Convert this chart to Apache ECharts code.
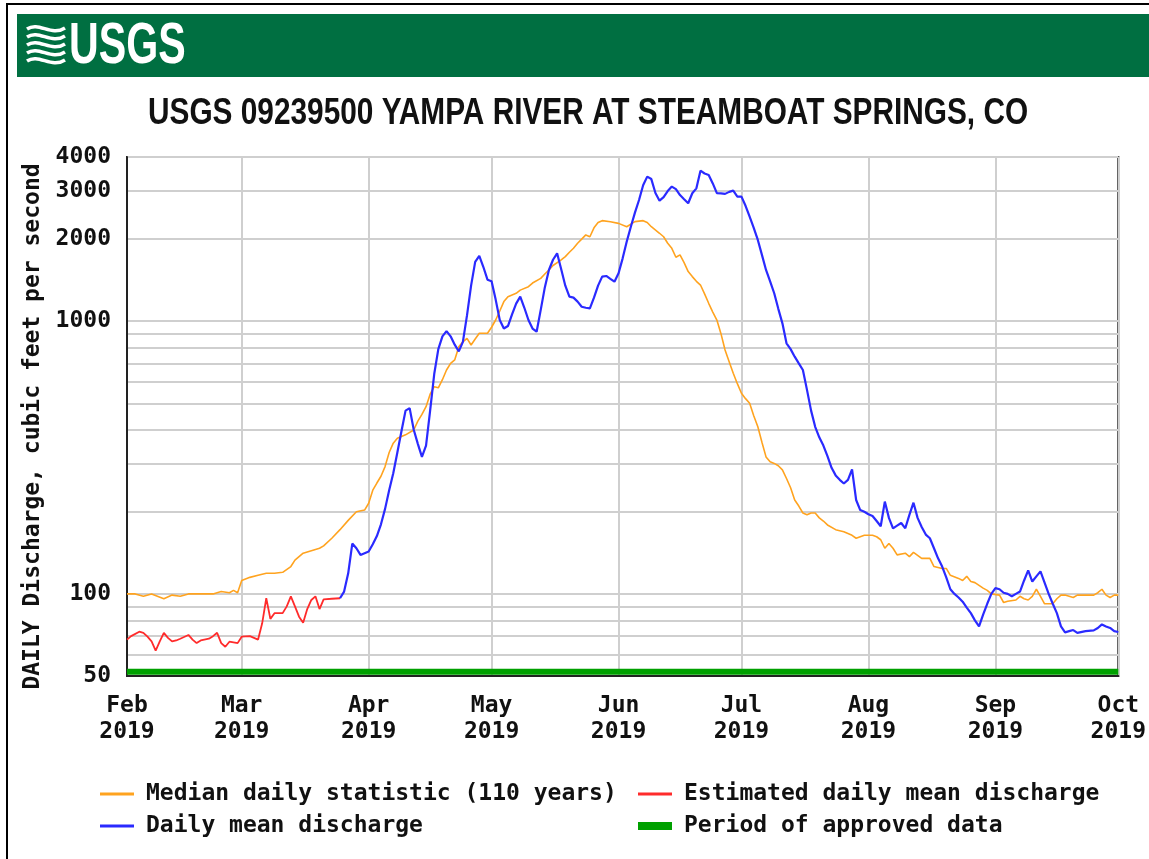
<!DOCTYPE html>
<html><head><meta charset="utf-8">
<script src="https://cdn.jsdelivr.net/npm/echarts@6/dist/echarts.min.js"></script>
<style>html,body{margin:0;padding:0;background:#fff}#c{width:1149px;height:859px}</style>
</head><body><div id="c"></div>
<script>
// x values are days since 2019-02-01
const monthDays = [0, 28, 59, 89, 120, 150, 181, 212, 242];
const monthLabels = ['Feb\n2019','Mar\n2019','Apr\n2019','May\n2019','Jun\n2019','Jul\n2019','Aug\n2019','Sep\n2019','Oct\n2019'];
const yGridValues = [50,60,70,80,90,100,200,300,400,500,600,700,800,900,1000,2000,3000,4000];
const yLabelValues = [50,100,1000,2000,3000,4000];

const medianPoints = [[0,100],[2,100],[4,98],[6,100],[9,96],[11,99],[13,98],[15,100],[18,100],[21,100],[23,102],[25,101],[26,103],[27,101],[28,112],[30,115],[32,117],[34,119],[36,119],[38,120],[40,126],[41,133],[43,141],[45,144],[47,147],[48,150],[50,160],[52,172],[54,186],[56,200],[58,203],[59,215],[60,240],[61,255],[62,270],[63,293],[64,330],[65,357],[66,372],[68,383],[70,399],[71,430],[72,455],[73,486],[74,540],[75,575],[76,570],[77,610],[78,662],[79,700],[80,721],[81,806],[82,840],[83,865],[84,818],[85,860],[86,903],[88,903],[89,950],[90,1010],[91,1090],[92,1180],[93,1230],[95,1265],[96,1300],[98,1338],[99,1380],[101,1436],[102,1490],[103,1541],[104,1600],[106,1677],[107,1725],[108,1790],[109,1851],[110,1931],[111,2000],[112,2072],[113,2040],[114,2200],[115,2300],[116,2337],[118,2315],[120,2284],[122,2220],[123,2270],[124,2318],[126,2337],[127,2300],[128,2220],[130,2101],[131,2040],[132,1931],[133,1850],[134,1716],[135,1750],[136,1640],[137,1520],[138,1457],[139,1400],[140,1357],[141,1260],[142,1163],[143,1080],[144,1010],[145,900],[146,784],[147,710],[148,644],[149,590],[150,544],[151,520],[152,500],[153,450],[154,410],[155,360],[156,318],[157,305],[158,301],[159,295],[160,285],[161,265],[162,245],[163,221],[164,210],[165,198],[166,195],[167,198],[168,198],[169,190],[170,185],[171,179],[173,172],[175,169],[177,164],[178,160],[180,164],[182,164],[183,162],[184,158],[185,147],[186,153],[187,147],[188,139],[190,141],[191,137],[192,142],[194,135],[196,135],[197,126],[199,124],[200,124],[201,117],[203,114],[204,112],[205,116],[206,111],[207,110],[209,105],[210,103],[211,100],[213,99],[214,93],[215,94],[217,95],[218,98],[219,96],[220,95],[221,98],[222,104],[223,98],[224,92],[226,92],[227,96],[228,99],[229,99],[231,97],[232,99],[236,99],[237,101],[238,104],[239,99],[240,97],[241,99],[242,99]];

const estimatedPoints = [[0,68],[1,70],[3,72.7],[4,72],[5,69.7],[6,67],[7,62],[8,67],[9,72],[10,69],[11,67],[12,67.5],[13,68.5],[15,70.7],[16,68],[17,66],[18,67.5],[20,68.5],[21,70],[22,72],[23,66],[24,64],[25,66.8],[27,66],[28,69.7],[30,70],[32,68],[33,78],[34,96.4],[35,81],[36,85],[38,85],[39,90],[40,98],[41,90],[42,82.5],[43,78.4],[44,88],[45,95],[46,98],[47,88],[48,95.5],[50,96],[52,96.4]];

const meanPoints = [[52,96.4],[53,102],[54,119],[55,153],[56,147],[57,139],[58,141],[59,143],[60,152],[61,163],[62,180],[63,205],[64,240],[65,277],[66,330],[67,395],[68,470],[69,480],[70,400],[71,355],[72,318],[73,350],[74,470],[75,640],[76,790],[77,880],[78,920],[79,880],[80,820],[81,775],[82,840],[83,1050],[84,1350],[85,1650],[86,1735],[87,1580],[88,1420],[89,1400],[90,1200],[91,1010],[92,940],[93,960],[94,1060],[95,1160],[96,1230],[97,1120],[98,1010],[99,940],[100,915],[101,1100],[102,1330],[103,1541],[104,1680],[105,1774],[106,1550],[107,1350],[108,1230],[109,1220],[110,1180],[111,1130],[112,1120],[113,1115],[114,1220],[115,1350],[116,1457],[117,1465],[118,1430],[119,1396],[120,1498],[121,1700],[122,1960],[123,2220],[124,2500],[125,2783],[126,3150],[127,3389],[128,3320],[129,2950],[130,2767],[131,2850],[132,3000],[133,3115],[134,3050],[135,2900],[136,2800],[137,2707],[138,2946],[139,3070],[140,3564],[141,3480],[142,3437],[143,3200],[144,2950],[145,2940],[146,2930],[147,2980],[148,3012],[149,2863],[150,2863],[151,2650],[152,2416],[153,2200],[154,1986],[155,1750],[156,1541],[157,1400],[158,1266],[159,1110],[160,982],[161,830],[162,790],[163,741],[164,700],[165,662],[166,560],[167,470],[168,410],[169,375],[170,350],[171,320],[172,290],[173,272],[174,262],[175,254],[176,262],[177,286],[178,221],[179,203],[180,200],[181,196],[182,193],[183,185],[184,177],[185,218],[186,190],[187,174],[188,178],[189,182],[190,174],[191,195],[192,216],[193,190],[194,176],[195,165],[196,160],[197,147],[198,135],[199,126],[200,115],[201,104],[202,100],[203,97],[204,93.6],[205,89],[206,85],[207,80],[208,76],[209,84],[210,92],[211,100],[212,105],[213,104],[214,101],[215,100],[216,98],[217,100],[218,102],[219,112],[220,122],[221,111],[222,116],[223,121],[224,110],[225,100],[226,92],[227,85],[228,76],[229,72.3],[230,73],[231,73.7],[232,72],[234,73],[236,73.5],[237,75],[238,77.3],[239,76],[240,75],[241,73],[242,72.5]];

const approvedPeriod = [0, 242];

const MONO = "'DejaVu Sans Mono', monospace";
const chart = echarts.init(document.getElementById('c'), null, {renderer: 'canvas'});

const legendText = {fontFamily: MONO, fontSize: 23, fontWeight: 'bold', color: '#111', lineHeight: 24, padding: [0,0,0,7]};
function legendItem(name, left, top, h) {
  return {data: [{name: name, icon: 'rect'}], left: left, top: top, padding: 0, itemWidth: 34, itemHeight: h,
          textStyle: legendText, selectedMode: false};
}

const wavePaths = [0, 8, 16, 24, 32].map(function (o) {
  return {type: 'bezierCurve',
    shape: {x1: 27, y1: 29 + o, cpx1: 39, cpy1: 21 + o, cpx2: 51, cpy2: 37 + o, x2: 65, y2: 28 + o},
    style: {stroke: '#fff', lineWidth: 3.5, fill: null}};
});

chart.setOption({
  animation: false,
  backgroundColor: '#fff',
  graphic: [
    {type: 'rect', shape: {x: 7, y: 4, width: 1200, height: 900}, style: {fill: null, stroke: '#000', lineWidth: 2}, z: 0},
    {type: 'rect', shape: {x: 17, y: 14, width: 1140, height: 63}, style: {fill: '#006F41'}},
    ...wavePaths,
    {type: 'text', x: 69, y: 47, scaleX: 0.71,
      style: {text: 'USGS', fill: '#fff', font: "bold 58px 'Liberation Sans', Arial, sans-serif", verticalAlign: 'middle', align: 'left'}},
    {type: 'text', x: 148, y: 114, scaleX: 0.828,
      style: {text: 'USGS 09239500 YAMPA RIVER AT STEAMBOAT SPRINGS, CO', fill: '#111',
        font: "bold 36px 'Liberation Sans', Arial, sans-serif", verticalAlign: 'middle', align: 'left'}}
  ],
  grid: {left: 127, top: 157, width: 992, height: 519, show: true, borderColor: '#222', borderWidth: 2, backgroundColor: 'transparent', containLabel: false},
  xAxis: {
    type: 'value', min: 0, max: 242,
    axisLine: {show: true, lineStyle: {color: '#222', width: 2}},
    axisTick: {show: false, customValues: monthDays},
    splitLine: {show: true, lineStyle: {color: '#CFCFCF', width: 2}},
    axisLabel: {customValues: monthDays, margin: 17, lineHeight: 26,
      fontFamily: MONO, fontSize: 23, fontWeight: 'bold', color: '#111',
      formatter: function (v) { return monthLabels[monthDays.indexOf(Math.round(v))] || ''; }}
  },
  yAxis: {
    type: 'log', logBase: 10, min: 50, max: 4000,
    name: 'DAILY Discharge, cubic feet per second', nameLocation: 'middle', nameGap: 81, nameRotate: 90,
    nameTextStyle: {fontFamily: MONO, fontSize: 23, fontWeight: 'bold', color: '#111', padding: [0, 20, 0, 0]},
    axisLine: {show: true, lineStyle: {color: '#222', width: 2}},
    axisTick: {show: false, customValues: yGridValues},
    splitLine: {show: true, lineStyle: {color: '#CFCFCF', width: 2}},
    minorSplitLine: {show: false},
    axisLabel: {customValues: yLabelValues, margin: 16, fontFamily: MONO, fontSize: 23, fontWeight: 'bold', color: '#111',
      formatter: function (v) { return String(Math.round(v)); }}
  },
  legend: [
    legendItem('Median daily statistic (110 years)', 100, 782, 3),
    legendItem('Daily mean discharge', 100, 814, 3),
    legendItem('Estimated daily mean discharge', 638, 782, 3),
    legendItem('Period of approved data', 638, 814, 8)
  ],
  series: [
    {name: 'Median daily statistic (110 years)', type: 'line', data: medianPoints, symbol: 'none',
      color: '#FFA31F', lineStyle: {color: '#FFA31F', width: 1.6}, z: 3},
    {name: 'Estimated daily mean discharge', type: 'line', data: estimatedPoints, symbol: 'none',
      color: '#FF2B2B', lineStyle: {color: '#FF2B2B', width: 1.8}, z: 4},
    {name: 'Daily mean discharge', type: 'line', data: meanPoints, symbol: 'none',
      color: '#2A2AFF', lineStyle: {color: '#2A2AFF', width: 2.2}, z: 5},
    {name: 'Period of approved data', type: 'line', data: approvedPeriod.map(function (d) { return [d, 51.8]; }), symbol: 'none',
      color: '#00A000', lineStyle: {color: '#00A000', width: 6}, z: 2}
  ]
});
</script></body></html>
